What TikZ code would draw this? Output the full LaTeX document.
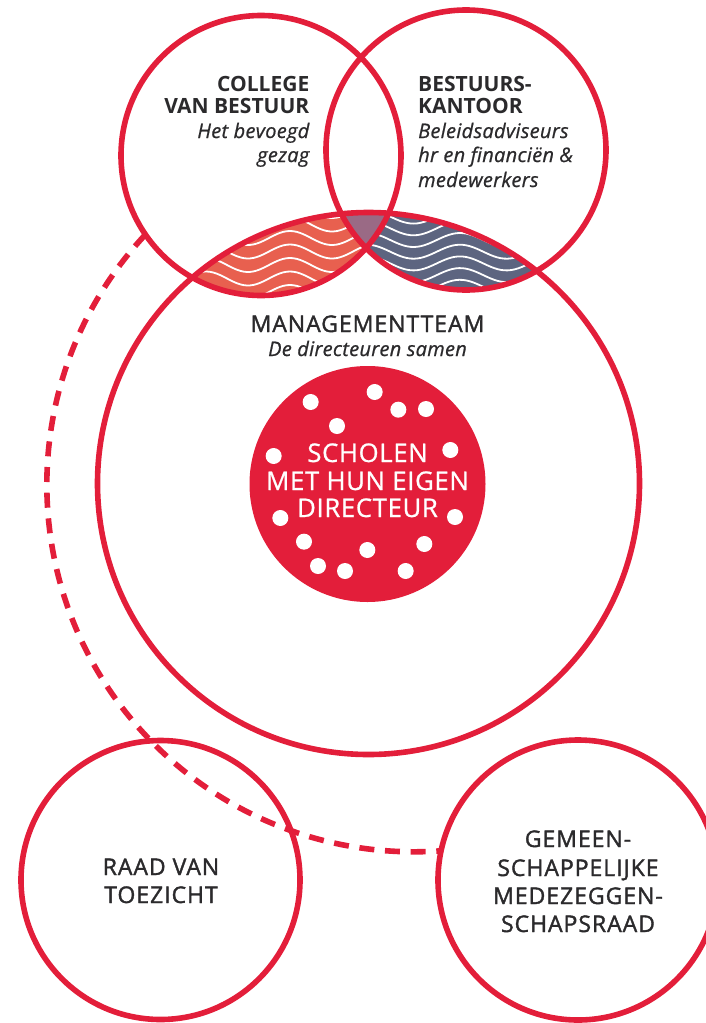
\documentclass[tikz,border=0pt]{standalone}
\usepackage{fontspec}
\setmainfont{Open Sans}
\newfontfamily\medf[FakeBold=1.6,LetterSpace=4.2]{Open Sans}
\newfontfamily\subf[FakeBold=0.8,LetterSpace=1.5]{Open Sans}
\newfontfamily\whitef[FakeBold=0.8,LetterSpace=2.6]{Open Sans}
\definecolor{brandred}{HTML}{E31E3A}
\definecolor{salmon}{HTML}{E8604F}
\definecolor{slate}{HTML}{5D6580}
\definecolor{mauve}{HTML}{9A6A85}
\definecolor{ink}{HTML}{2B2A2C}
\tikzset{
  ring/.style={circle,draw=brandred,line width=5.6pt,inner sep=0pt,outer sep=0pt,minimum size=#1},
  dot/.style={circle,fill=white,inner sep=0pt,minimum size=16pt},
  head/.style={text=ink,inner sep=0pt,font=\fontsize{21}{22}\selectfont\bfseries},
  sub/.style={text=ink,inner sep=0pt,font=\fontsize{20}{22}\subf\itshape},
  lab/.style={text=ink,inner sep=0pt,anchor=base,font=\fontsize{23}{25}\medf},
  schooltext/.style={text=white,inner sep=0pt,anchor=base,font=\fontsize{25.7}{27}\whitef},
  wave/.style={white,line width=1.8pt,smooth}
}
\begin{document}
\begin{tikzpicture}[x=1pt,y=-1pt]
\useasboundingbox (0,0) rectangle (706,1023);
\clip (0,0) rectangle (706,1023);
\coordinate (cC) at (261,155.5);
\coordinate (cB) at (466,150);
\coordinate (cM) at (368.5,483.5);
% orange lens
\begin{scope}
  \clip (cC) circle[radius=140];
  \clip (cM) circle[radius=271];
  \fill[salmon] (180,200) rectangle (400,300);
  \foreach \k in {-3,...,6}{
    \draw[wave] plot[domain=170:400,samples=70] (\x,{238+13.5*\k-7*cos(360/84*(\x-290))});
  }
\end{scope}
% blue lens
\begin{scope}
  \clip (cB) circle[radius=140];
  \clip (cM) circle[radius=271];
  \fill[slate] (320,200) rectangle (550,300);
  \foreach \k in {-3,...,6}{
    \draw[wave] plot[domain=320:560,samples=70] (\x,{240+11.7*\k-7*cos(360/93*(\x-460))});
  }
\end{scope}
% triple overlap
\begin{scope}
  \clip (cC) circle[radius=140];
  \clip (cB) circle[radius=140];
  \clip (cM) circle[radius=271];
  \fill[mauve] (320,200) rectangle (400,300);
\end{scope}
% rings
\node[ring=280pt] (college) at (cC) {};
\node[ring=280pt] (bestuur) at (cB) {};
\node[ring=542pt] (mt) at (cM) {};
\node[ring=279pt] (raad) at (160.5,880) {};
\node[ring=280pt] (gmr) at (578,880) {};
\node[circle,fill=brandred,inner sep=0pt,minimum size=236pt] (school) at (367.5,484) {};
% dashed link
\coordinate (dashA) at (145,235);
\draw[brandred,line width=5.6pt,dash pattern=on 15pt off 10.7pt] (dashA) arc[start angle=222.9,end angle=85.8,radius=367];
% dots
\foreach \n/\zx/\zy in {a/212/126,b/404/96,c/475/149,d/558/147,e/291/198,f/101/288,g/631/270,h/121/474,i/645/471,j/192/545,k/553/552,l/382/570,m/234/618,n/315/633,o/497/633}{
  \node[dot] (dot\n) at ({240+\zx/3},{360+\zy/3}) {};
}
% text
\node[head,anchor=base east] (t1) at (309.5,91) {COLLEGE};
\node[head,anchor=base east] (t2) at (309.5,113.5) {VAN BESTUUR};
\node[sub,anchor=base east] (t3) at (309.5,138) {Het bevoegd};
\node[sub,anchor=base east] (t4) at (309.5,162) {gezag};
\node[head,anchor=base west] (t5) at (418,91) {BESTUURS-};
\node[head,anchor=base west] (t6) at (418,113.5) {KANTOOR};
\node[sub,anchor=base west] (t7) at (418,138) {Beleidsadviseurs};
\node[sub,anchor=base west] (t8) at (418,162) {hr en financiën \&};
\node[sub,anchor=base west] (t9) at (418,187) {medewerkers};
\node[lab] (t10) at (367.5,332) {MANAGEMENTTEAM};
\node[sub,anchor=base] (t11) at (367.5,356) {De directeuren samen};
\node[schooltext] (t12) at (367.5,462) {SCHOLEN};
\node[schooltext] (t13) at (367.5,490) {MET HUN EIGEN};
\node[schooltext] (t14) at (367.5,517) {DIRECTEUR};
\node[lab] (t15) at (161,875) {RAAD VAN};
\node[lab] (t16) at (161,903) {TOEZICHT};
\node[lab] (t17) at (578,847) {GEMEEN-};
\node[lab] (t18) at (578,876) {SCHAPPELIJKE};
\node[lab] (t19) at (578,904) {MEDEZEGGEN-};
\node[lab] (t20) at (578,932) {SCHAPSRAAD};
\end{tikzpicture}
\end{document}
